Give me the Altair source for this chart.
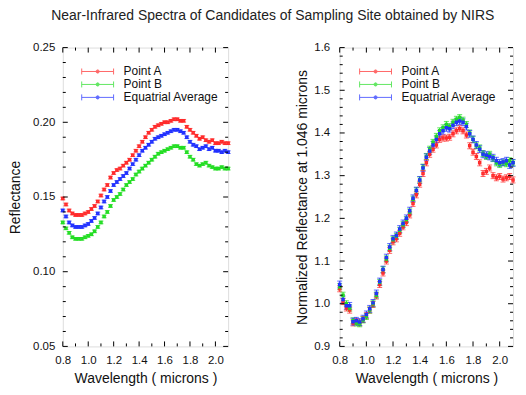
import altair as alt
import pandas as pd

wavelength = [0.800, 0.825, 0.850, 0.875, 0.900, 0.925, 0.950, 0.975, 1.000, 1.025,
              1.050, 1.075, 1.100, 1.125, 1.150, 1.175, 1.200, 1.225, 1.250, 1.275,
              1.300, 1.325, 1.350, 1.375, 1.400, 1.425, 1.450, 1.475, 1.500, 1.525,
              1.550, 1.575, 1.600, 1.625, 1.650, 1.675, 1.700, 1.725, 1.750, 1.775,
              1.800, 1.825, 1.850, 1.875, 1.900, 1.925, 1.950, 1.975, 2.000, 2.025,
              2.050, 2.075, 2.100]

refl_a = [0.149, 0.145, 0.141, 0.139, 0.138, 0.138, 0.138, 0.139, 0.140, 0.142,
          0.144, 0.147, 0.151, 0.155, 0.158, 0.163, 0.166, 0.168, 0.169, 0.171,
          0.173, 0.175, 0.178, 0.181, 0.184, 0.187, 0.190, 0.193, 0.195, 0.197,
          0.198, 0.199, 0.200, 0.200, 0.201, 0.202, 0.202, 0.201, 0.201, 0.197,
          0.195, 0.193, 0.191, 0.189, 0.190, 0.188, 0.187, 0.188, 0.186, 0.186,
          0.187, 0.186, 0.186]
refl_b = [0.133, 0.129, 0.126, 0.123, 0.122, 0.122, 0.122, 0.123, 0.124, 0.125,
          0.127, 0.130, 0.133, 0.137, 0.140, 0.144, 0.148, 0.150, 0.152, 0.155,
          0.158, 0.160, 0.162, 0.165, 0.167, 0.169, 0.171, 0.173, 0.175, 0.177,
          0.179, 0.180, 0.181, 0.182, 0.183, 0.184, 0.184, 0.183, 0.183, 0.180,
          0.177, 0.175, 0.172, 0.171, 0.172, 0.173, 0.171, 0.170, 0.169, 0.169,
          0.170, 0.169, 0.169]
refl_avg = [0.141, 0.137, 0.133, 0.131, 0.130, 0.130, 0.130, 0.131, 0.132, 0.134,
            0.136, 0.139, 0.143, 0.147, 0.150, 0.154, 0.158, 0.160, 0.162, 0.164,
            0.166, 0.169, 0.172, 0.175, 0.178, 0.181, 0.183, 0.185, 0.187, 0.189,
            0.190, 0.191, 0.192, 0.193, 0.194, 0.195, 0.195, 0.194, 0.193, 0.190,
            0.187, 0.185, 0.184, 0.182, 0.183, 0.184, 0.182, 0.183, 0.181, 0.181,
            0.180, 0.181, 0.180]

norm_a = [1.035, 1.005, 0.990, 0.985, 0.955, 0.958, 0.955, 0.963, 0.972, 0.985,
          0.998, 1.018, 1.045, 1.072, 1.100, 1.125, 1.145, 1.152, 1.165, 1.180,
          1.190, 1.208, 1.235, 1.255, 1.280, 1.305, 1.330, 1.350, 1.362, 1.372,
          1.385, 1.388, 1.388, 1.390, 1.398, 1.405, 1.410, 1.405, 1.395, 1.370,
          1.355, 1.345, 1.330, 1.305, 1.310, 1.318, 1.300, 1.295, 1.298, 1.292,
          1.295, 1.298, 1.290]
norm_b = [1.040, 1.020, 1.000, 0.990, 0.960, 0.955, 0.953, 0.962, 0.970, 0.985,
          1.000, 1.020, 1.050, 1.080, 1.105, 1.130, 1.150, 1.158, 1.172, 1.185,
          1.197, 1.215, 1.245, 1.265, 1.290, 1.320, 1.345, 1.362, 1.378, 1.392,
          1.405, 1.412, 1.420, 1.415, 1.425, 1.432, 1.436, 1.430, 1.420, 1.400,
          1.385, 1.370, 1.365, 1.352, 1.345, 1.350, 1.340, 1.330, 1.326, 1.330,
          1.328, 1.335, 1.330]
norm_avg = [1.045, 1.010, 0.995, 0.995, 0.958, 0.960, 0.957, 0.965, 0.975, 0.988,
            1.002, 1.024, 1.052, 1.080, 1.108, 1.133, 1.152, 1.160, 1.175, 1.188,
            1.200, 1.218, 1.247, 1.265, 1.290, 1.318, 1.343, 1.358, 1.372, 1.385,
            1.398, 1.405, 1.412, 1.410, 1.418, 1.425, 1.428, 1.425, 1.415, 1.398,
            1.385, 1.372, 1.362, 1.350, 1.348, 1.345, 1.342, 1.335, 1.330, 1.332,
            1.335, 1.325, 1.330]

series_names = ["Point A", "Point B", "Equatrial Average"]
series_colors = ["#ff2a2a", "#22dd22", "#2030ff"]
err_left = [0.0009, 0.0009, 0.0009]
err_right = [0.007, 0.007, 0.008]

x_major = [0.8, 1.0, 1.2, 1.4, 1.6, 1.8, 2.0]
x_minor = [0.9, 1.1, 1.3, 1.5, 1.7, 1.9]
left_y_major = [0.05, 0.10, 0.15, 0.20, 0.25]
left_y_minor = [0.06, 0.07, 0.08, 0.09, 0.11, 0.12, 0.13, 0.14, 0.16, 0.17, 0.18,
                0.19, 0.21, 0.22, 0.23, 0.24]
right_y_major = [0.9, 1.0, 1.1, 1.2, 1.3, 1.4, 1.5, 1.6]
right_y_minor = [0.92, 0.94, 0.96, 0.98, 1.02, 1.04, 1.06, 1.08, 1.12, 1.14, 1.16,
                 1.18, 1.22, 1.24, 1.26, 1.28, 1.32, 1.34, 1.36, 1.38, 1.42, 1.44,
                 1.46, 1.48, 1.52, 1.54, 1.56, 1.58]

FONT = "Liberation Sans"
LEGEND_PATH = ("M-4,0L4,0M-4,-0.75L-4,0.75M4,-0.75L4,0.75"
               "M0.4,0A0.4,0.4,0,1,1,-0.4,0A0.4,0.4,0,1,1,0.4,0")


def build_df(series_values, errs):
    rows = []
    for name, vals, e in zip(series_names, series_values, errs):
        for w, v in zip(wavelength, vals):
            rows.append({"wl": w, "val": v, "lo": v - e, "hi": v + e, "series": name})
    return pd.DataFrame(rows)


def panel(df, ydom, ymajor, yminor, yfmt, ytitle, W, H, lx, ly, lab_pad, title_pad):
    xs = alt.Scale(domain=[0.8, 2.1], nice=False, zero=False)
    ys = alt.Scale(domain=ydom, nice=False, zero=False)
    xaxis = alt.Axis(values=x_major, format=".1f", title="Wavelength ( microns )",
                     ticks=False, domain=False, grid=False, labelPadding=8,
                     labelFontSize=11.5, titleFontSize=14, titleFontWeight="normal",
                     labelFont=FONT, titleFont=FONT, labelColor="#111",
                     titleColor="#111", titlePadding=6, labelFlush=False,
                     labelOverlap=False, labelSeparation=0)
    yaxis = alt.Axis(values=ymajor, format=yfmt, title=ytitle, ticks=False,
                     domain=False, grid=False, labelPadding=lab_pad,
                     labelFontSize=11.5, titleFontSize=14, titleFontWeight="normal",
                     labelFont=FONT, titleFont=FONT, labelColor="#111",
                     titleColor="#111", titlePadding=title_pad, labelOverlap=False)
    cscale = alt.Scale(domain=series_names, range=series_colors)
    leg = alt.Legend(title=None, orient="none", legendX=lx, legendY=ly,
                     symbolType=LEGEND_PATH, symbolSize=64, symbolStrokeWidth=1,
                     labelFontSize=12, labelFont=FONT, labelColor="#111",
                     labelOffset=20, rowPadding=1, padding=0)
    col = alt.Color("series:N", scale=cscale, sort=series_names, legend=leg)
    X = alt.X("wl:Q", scale=xs, axis=xaxis)
    base = alt.Chart(df)
    err = base.mark_rule(strokeWidth=1).encode(
        x=X, y=alt.Y("lo:Q", scale=ys, axis=yaxis), y2="hi:Q", color=col)
    cap_lo = base.mark_tick(orient="horizontal", size=5, thickness=1).encode(
        x=X, y=alt.Y("lo:Q", scale=ys, axis=yaxis), color=col)
    cap_hi = base.mark_tick(orient="horizontal", size=5, thickness=1).encode(
        x=X, y=alt.Y("hi:Q", scale=ys, axis=yaxis), color=col)
    pts = base.mark_point(shape="square", size=4, filled=False, strokeWidth=1.5,
                          opacity=1).encode(
        x=X, y=alt.Y("val:Q", scale=ys, axis=yaxis), color=col)

    def yticks(vals, x1, x2):
        return alt.Chart(pd.DataFrame({"v": vals})).mark_rule(
            color="black", strokeWidth=1).encode(
            y=alt.Y("v:Q", scale=ys, axis=yaxis), x=alt.value(x1), x2=alt.value(x2))

    def xticks(vals, y1, y2):
        return alt.Chart(pd.DataFrame({"v": vals})).mark_rule(
            color="black", strokeWidth=1).encode(
            x=alt.X("v:Q", scale=xs, axis=xaxis), y=alt.value(y1), y2=alt.value(y2))

    ticks = [
        yticks(ymajor, 0, 5), yticks(yminor, 0, 3),
        yticks(ymajor, W - 5, W), yticks(yminor, W - 3, W),
        xticks(x_major, H - 5, H), xticks(x_minor, H - 3, H),
        xticks(x_major, 0, 5), xticks(x_minor, 0, 3),
    ]
    return alt.layer(err, cap_lo, cap_hi, pts, *ticks).properties(width=W, height=H)


left = panel(build_df([refl_a, refl_b, refl_avg], err_left), [0.05, 0.25],
             left_y_major, left_y_minor, ".2f", "Reflectance", 166, 300,
             29, 18, 8, 10)
right = panel(build_df([norm_a, norm_b, norm_avg], err_right), [0.9, 1.6],
              right_y_major, right_y_minor, ".1f",
              "Normalized Reflectance at 1.046 microns", 174, 300, 30, 18, 10, 4)

chart = alt.hconcat(left, right, spacing=62).resolve_scale(
    color="independent").resolve_legend(color="independent").properties(
    padding=0,
    title=alt.TitleParams("Near-Infrared Spectra of Candidates of Sampling Site obtained by NIRS",
                          fontSize=14, font=FONT, fontWeight="normal",
                          anchor="middle", offset=18, dx=10, color="#222")
).configure_view(stroke="black", strokeWidth=1.5).configure(background="white")

chart.save("out.html", embed_options={"renderer": "svg", "actions": False})
